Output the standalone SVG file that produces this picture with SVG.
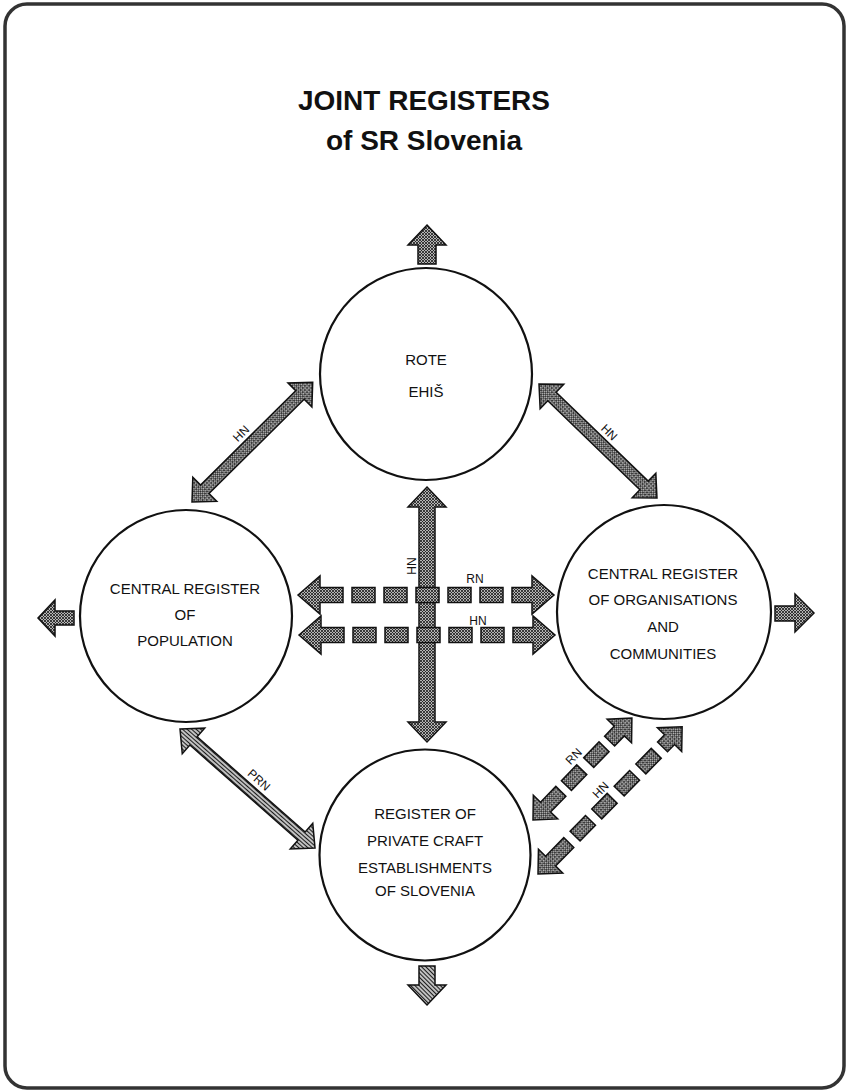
<svg xmlns="http://www.w3.org/2000/svg" width="849" height="1092" viewBox="0 0 849 1092">
<defs>
<pattern id="xh" patternUnits="userSpaceOnUse" width="3" height="3">
<rect width="3" height="3" fill="#b4b4b4"/>
<path d="M0,0L3,3M3,0L0,3" stroke="#1a1a1a" stroke-width="0.8"/>
</pattern>
<pattern id="stripe" patternUnits="userSpaceOnUse" width="3" height="3">
<rect width="3" height="3" fill="#c8c8c8"/>
<path d="M0,1.5H3" stroke="#1a1a1a" stroke-width="1.1"/>
</pattern>
<pattern id="dstripe" patternUnits="userSpaceOnUse" width="3" height="3" patternTransform="rotate(45)">
<rect width="3" height="3" fill="#c8c8c8"/>
<path d="M0,1.5H3" stroke="#1a1a1a" stroke-width="1.1"/>
</pattern>
</defs>
<style>
.frame{fill:#fff;stroke:#333;stroke-width:3.5}
.arr{fill:url(#xh);stroke:#111;stroke-width:1.5;stroke-linejoin:miter}
.arrs{fill:url(#stripe);stroke:#111;stroke-width:1.5}
.arrd{fill:url(#dstripe);stroke:#111;stroke-width:1.5}
.node circle{fill:#fff;stroke:#111;stroke-width:2.2}
.nt{font-family:"Liberation Sans",Arial,sans-serif;font-size:15px;text-anchor:middle;fill:#111}
.lbl{font-family:"Liberation Sans",Arial,sans-serif;font-size:12px;text-anchor:middle;fill:#111}
.title{font-family:"Liberation Sans",Arial,sans-serif;font-size:28px;font-weight:bold;text-anchor:middle;fill:#111}
</style>
<rect class="frame" x="5" y="4" width="839" height="1084" rx="22"/>
<g id="title">
<text class="title" x="424" y="110">JOINT REGISTERS</text>
<text class="title" x="424" y="150">of SR Slovenia</text>
</g>
<g id="connectors">
<path class="arr" d="M427,225 L446,245 L436,245 L436,264 L418,264 L418,245 L408,245 Z"/>
<path class="arrd" d="M427,1005 L446,985 L435,985 L435,966 L419,966 L419,985 L408,985 Z"/>
<path class="arr" d="M38,618 L55,600 L55,611 L74,611 L74,625 L55,625 L55,636 Z"/>
<path class="arr" d="M814,613 L795,594 L795,606 L775,606 L775,621 L795,621 L795,632 Z"/>
<g transform="translate(192,502) rotate(-44.76)">
<polygon class="arr" points="0,0 18,-17 18,-6 152,-6 152,-17 170,0 152,17 152,6 18,6 18,17"/>
<text class="lbl" x="83" y="-10">HN</text>
</g>
<g transform="translate(539,384) rotate(44)">
<polygon class="arr" points="0,0 18,-17 18,-6 146,-6 146,-17 164,0 146,17 146,6 18,6 18,17"/>
<text class="lbl" x="84" y="-10">HN</text>
</g>
<g transform="translate(180,729) rotate(41.4)">
<polygon class="arrs" points="0,0 18,-17 18,-5.5 162,-5.5 162,-17 180,0 162,17 162,5.5 18,5.5 18,17"/>
<text class="lbl" x="93" y="-10">PRN</text>
</g>
<g transform="translate(427,487) rotate(90)">
<polygon class="arr" points="0,0 20,-19 20,-8 235,-8 235,-19 255,0 235,19 235,8 20,8 20,19"/>
</g>
<text class="lbl" transform="translate(416,566) rotate(-90)">HN</text>
<g>
<path class="arr" d="M298,595 L320,576 L320,587.5 L343,587.5 L343,602.5 L320,602.5 L320,614 Z"/>
<rect class="arr" x="352" y="587.5" width="23" height="15"/>
<rect class="arr" x="384" y="587.5" width="23" height="15"/>
<rect class="arr" x="416" y="587.5" width="23" height="15"/>
<rect class="arr" x="448" y="587.5" width="23" height="15"/>
<rect class="arr" x="480" y="587.5" width="23" height="15"/>
<path class="arr" d="M512,587.5 L532,587.5 L532,576 L554,595 L532,614 L532,602.5 L512,602.5 Z"/>
<text class="lbl" x="475" y="583">RN</text>
</g>
<g transform="translate(1,40)">
<path class="arr" d="M298,595 L320,576 L320,587.5 L343,587.5 L343,602.5 L320,602.5 L320,614 Z"/>
<rect class="arr" x="352" y="587.5" width="23" height="15"/>
<rect class="arr" x="384" y="587.5" width="23" height="15"/>
<rect class="arr" x="416" y="587.5" width="23" height="15"/>
<rect class="arr" x="448" y="587.5" width="23" height="15"/>
<rect class="arr" x="480" y="587.5" width="23" height="15"/>
<path class="arr" d="M512,587.5 L532,587.5 L532,576 L554,595 L532,614 L532,602.5 L512,602.5 Z"/>
<text class="lbl" x="477" y="585">HN</text>
</g>
<g transform="translate(533,820) rotate(-45.86)">
<polygon class="arr" points="0,0 18,-17 18,-7 40,-7 40,7 18,7 18,17"/>
<rect class="arr" x="48" y="-7" width="22" height="14"/>
<rect class="arr" x="80" y="-7" width="22" height="14"/>
<polygon class="arr" points="110,-7 124,-7 124,-17 142,0 124,17 124,7 110,7"/>
<text class="lbl" x="74" y="-11">RN</text>
</g>
<g transform="translate(538,874) rotate(-45.6)">
<polygon class="arr" points="0,0 18,-17 18,-7 44,-7 44,7 18,7 18,17"/>
<rect class="arr" x="53" y="-7" width="22" height="14"/>
<rect class="arr" x="84" y="-7" width="22" height="14"/>
<rect class="arr" x="116" y="-7" width="22" height="14"/>
<rect class="arr" x="147" y="-7" width="22" height="14"/>
<polygon class="arr" points="178,-7 188,-7 188,-17 206,0 188,17 188,7 178,7"/>
<text class="lbl" x="104" y="-10">HN</text>
</g>
</g>
<g id="rote" class="node">
<circle cx="426" cy="374" r="106"/>
<text class="nt" x="426" y="365">ROTE</text>
<text class="nt" x="426" y="397">EHIŠ</text>
</g>
<g id="population" class="node">
<circle cx="186" cy="616" r="106"/>
<text class="nt" x="185" y="594">CENTRAL REGISTER</text>
<text class="nt" x="185" y="620">OF</text>
<text class="nt" x="185" y="646">POPULATION</text>
</g>
<g id="organisations" class="node">
<circle cx="664" cy="612" r="107"/>
<text class="nt" x="663" y="579">CENTRAL REGISTER</text>
<text class="nt" x="663" y="605">OF ORGANISATIONS</text>
<text class="nt" x="663" y="632">AND</text>
<text class="nt" x="663" y="659">COMMUNITIES</text>
</g>
<g id="crafts" class="node">
<circle cx="425" cy="855" r="105.5"/>
<text class="nt" x="425" y="819">REGISTER OF</text>
<text class="nt" x="425" y="846">PRIVATE CRAFT</text>
<text class="nt" x="425" y="873">ESTABLISHMENTS</text>
<text class="nt" x="425" y="896">OF SLOVENIA</text>
</g>
</svg>
